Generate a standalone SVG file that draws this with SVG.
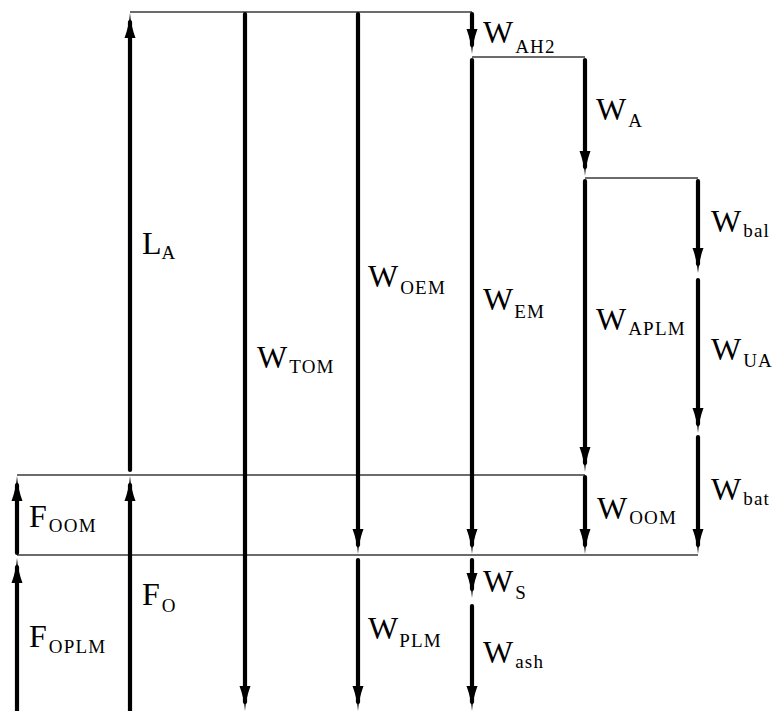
<svg xmlns="http://www.w3.org/2000/svg" width="775" height="711" viewBox="0 0 775 711">
  <style>
    .lvl { stroke: #3a3a3a; stroke-width: 1.4; fill: none; }
    .arr { stroke: #000; stroke-width: 4.2; stroke-linecap: round; fill: none; marker-end: url(#head); }
    text { fill: #000; font-family: "Liberation Serif", "DejaVu Serif", serif; font-size: 32px; }
    .s { font-size: 19px; letter-spacing: 1.2px; }
  </style>
  <defs>
    <marker id="head" markerUnits="userSpaceOnUse" markerWidth="28" markerHeight="14" viewBox="0 0 28 14" refX="16" refY="7" orient="auto">
      <path d="M0,1.5 Q12,6 25,7 Q12,8 0,12.5 Z" fill="#000"/>
    </marker>
  </defs>
  <rect width="775" height="711" fill="#fff"/>

  <!-- level lines between the mass / force budgets -->
  <g id="levels">
    <line class="lvl" x1="130" y1="12" x2="472" y2="12"/>
    <line class="lvl" x1="472" y1="57" x2="585" y2="57"/>
    <line class="lvl" x1="585" y1="178" x2="698" y2="178"/>
    <line class="lvl" x1="17" y1="475" x2="585" y2="475"/>
    <line class="lvl" x1="17" y1="555" x2="698" y2="555"/>
  </g>

  <!-- column x=17 -->
  <g id="F_OOM">
    <line class="arr" x1="17" y1="553" x2="17" y2="485"/>
    <text x="29" y="527">F<tspan class="s" dx="2" dy="5">OOM</tspan></text>
  </g>
  <g id="F_OPLM">
    <line class="arr" x1="17" y1="714" x2="17" y2="567"/>
    <text x="29" y="647">F<tspan class="s" dx="2" dy="6">OPLM</tspan></text>
  </g>

  <!-- column x=130 -->
  <g id="L_A">
    <line class="arr" x1="130" y1="470" x2="130" y2="22"/>
    <text x="142" y="254">L<tspan class="s" dx="0" dy="5">A</tspan></text>
  </g>
  <g id="F_O">
    <line class="arr" x1="130" y1="714" x2="130" y2="485"/>
    <text x="142" y="605">F<tspan class="s" dx="2" dy="7">O</tspan></text>
  </g>

  <!-- column x=245 -->
  <g id="W_TOM">
    <line class="arr" x1="245" y1="14" x2="245" y2="702"/>
    <text x="257" y="368">W<tspan class="s" dx="2" dy="5">TOM</tspan></text>
  </g>

  <!-- column x=358 -->
  <g id="W_OEM">
    <line class="arr" x1="358" y1="14" x2="358" y2="545"/>
    <text x="368" y="287">W<tspan class="s" dx="2" dy="7">OEM</tspan></text>
  </g>
  <g id="W_PLM">
    <line class="arr" x1="358" y1="560" x2="358" y2="702"/>
    <text x="368" y="639">W<tspan class="s" dx="1" dy="8">PLM</tspan></text>
  </g>

  <!-- column x=472 -->
  <g id="W_AH2">
    <line class="arr" x1="472" y1="14" x2="472" y2="45"/>
    <text x="483" y="43">W<tspan class="s" dx="2" dy="10">AH2</tspan></text>
  </g>
  <g id="W_EM">
    <line class="arr" x1="472" y1="60" x2="472" y2="545"/>
    <text x="483" y="310">W<tspan class="s" dx="1" dy="8">EM</tspan></text>
  </g>
  <g id="W_S">
    <line class="arr" x1="472" y1="560" x2="472" y2="589"/>
    <text x="483" y="592">W<tspan class="s" dx="2" dy="7">S</tspan></text>
  </g>
  <g id="W_ash">
    <line class="arr" x1="472" y1="606" x2="472" y2="702"/>
    <text x="483" y="663">W<tspan class="s" dx="2" dy="5">ash</tspan></text>
  </g>

  <!-- column x=585 -->
  <g id="W_A">
    <line class="arr" x1="585" y1="60" x2="585" y2="167"/>
    <text x="596" y="120">W<tspan class="s" dx="2" dy="7">A</tspan></text>
  </g>
  <g id="W_APLM">
    <line class="arr" x1="585" y1="181" x2="585" y2="463"/>
    <text x="596" y="330">W<tspan class="s" dx="2" dy="5">APLM</tspan></text>
  </g>
  <g id="W_OOM">
    <line class="arr" x1="585" y1="477" x2="585" y2="545"/>
    <text x="597" y="519">W<tspan class="s" dx="2" dy="5">OOM</tspan></text>
  </g>

  <!-- column x=698 -->
  <g id="W_bal">
    <line class="arr" x1="698" y1="181" x2="698" y2="264"/>
    <text x="711" y="232">W<tspan class="s" dx="2" dy="5">bal</tspan></text>
  </g>
  <g id="W_UA">
    <line class="arr" x1="698" y1="280" x2="698" y2="424"/>
    <text x="711" y="360">W<tspan class="s" dx="2" dy="7">UA</tspan></text>
  </g>
  <g id="W_bat">
    <line class="arr" x1="698" y1="437" x2="698" y2="545"/>
    <text x="711" y="500">W<tspan class="s" dx="2" dy="5">bat</tspan></text>
  </g>
</svg>
